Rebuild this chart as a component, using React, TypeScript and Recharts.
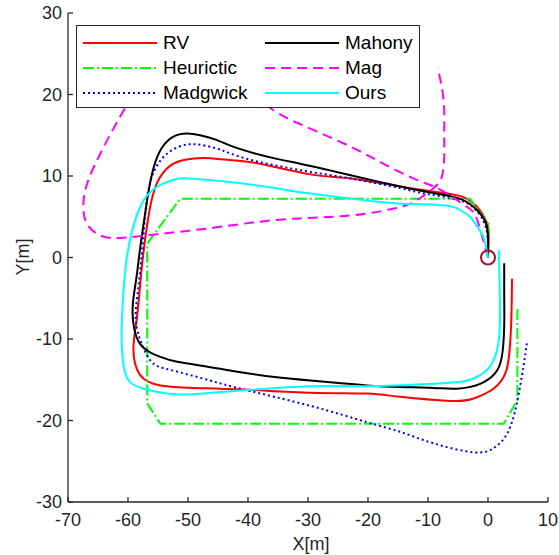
import { LineChart, Line, XAxis, YAxis, ReferenceDot, Legend, Label } from 'recharts';

const xTicks = [-70, -60, -50, -40, -30, -20, -10, 0, 10];
const yTicks = [-30, -20, -10, 0, 10, 20, 30];

// [x, y] in metres
const rv = [[0,0],[0.1,3.3],[-0.5,4.8],[-1.8,6.2],[-4.1,7.4],[-7.4,7.9],[-14.6,8.7],[-22.9,9.7],[-29.6,10.2],[-38,11.5],[-43.5,12.0],[-47.4,12.2],[-50.5,12.0],[-52.9,11.3],[-55.2,9.1],[-56.6,5.0],[-57.7,-1.2],[-58.5,-7.3],[-59.1,-11.2],[-58,-14.4],[-54.6,-15.7],[-49.1,-16.0],[-40.7,-16.2],[-29.6,-16.6],[-20.2,-16.7],[-14.6,-17.1],[-6.3,-17.6],[-2.4,-17.3],[0.9,-16.1],[2.9,-14.2],[3.6,-11.4],[3.9,-7.3],[4,-2.6]];
const heuristic = [[0,0],[0.1,4.1],[-3,7.2],[-51.3,7.2],[-56.8,1.7],[-56.8,-17.9],[-54.6,-20.4],[2.6,-20.4],[4.9,-17.5],[4.9,-6.1]];
const madgwick = [[0,0],[0,1.5],[-0.4,3.8],[-2,5.8],[-5,7.1],[-10.2,7.8],[-14.6,8.5],[-22.9,9.7],[-29.6,10.5],[-34,11.1],[-38,11.7],[-41.5,12.4],[-44.5,13.2],[-47,13.7],[-49.1,13.9],[-51.5,13.6],[-54.6,11.9],[-56.6,8.3],[-57.4,2.9],[-58.2,-3.2],[-58.7,-6.5],[-58.3,-9.3],[-56.3,-12.6],[-52.9,-13.8],[-46.3,-15.1],[-40.7,-16.2],[-29.6,-18.2],[-20.2,-20.2],[-14.6,-21.4],[-9.1,-22.8],[-2.4,-23.9],[0.9,-23.4],[3.2,-21.6],[4.8,-17.9],[5.9,-13.4],[6.5,-10.4]];
const mahony = [[0,0],[0,0.9],[-0.2,3.8],[-1.8,5.8],[-4.6,7.2],[-9.1,7.9],[-14.6,8.7],[-22.9,10.1],[-27,10.8],[-31.3,11.5],[-35.2,12.1],[-39,12.8],[-42.5,13.6],[-45.5,14.5],[-48,15.0],[-50.2,15.2],[-52.5,14.8],[-54.4,13.4],[-55.7,11.1],[-56.6,8.0],[-57.3,4.6],[-58.0,1.0],[-58.6,-2.5],[-59.2,-5.8],[-59.0,-8.6],[-58.0,-10.6],[-56.4,-11.6],[-54.6,-12.2],[-51.8,-12.8],[-47.5,-13.3],[-43.5,-13.8],[-39.3,-14.3],[-35.2,-14.7],[-29.6,-15.1],[-24.9,-15.4],[-20.2,-15.7],[-14.6,-15.9],[-9.1,-16.0],[-5.2,-16.1],[-1.3,-15.5],[1.2,-14.2],[2.3,-12.2],[2.7,-8.5],[2.7,-4.6],[2.7,-0.7]];
const mag = [[0,0],[-1.8,4.6],[-3.5,6.2],[-7.9,8.3],[-11.8,9.5],[-17.4,11.5],[-22.9,13.6],[-30.2,16.0],[-35.8,18.1],[-41,21],[-47,23],[-54,22.5],[-58.5,20.3],[-61.3,17.3],[-65.7,11.1],[-67.4,7.0],[-66.9,4.2],[-64.6,2.7],[-61.3,2.4],[-54.6,2.9],[-46.3,3.6],[-38,4.4],[-31.3,4.8],[-25.7,5.0],[-20.2,5.4],[-15.7,6.0],[-12.4,6.8],[-9.1,8.5],[-7.7,9.9],[-7.3,12.3],[-7.3,15.2],[-7.4,19.3],[-8.4,23.3]];
const ours = [[0,0],[-0.2,0.9],[-0.8,2.6],[-1.8,3.8],[-3,5],[-4.6,5.8],[-7.4,6.4],[-14.6,6.6],[-20.2,7.0],[-31.3,8.0],[-35.2,8.5],[-43.5,9.3],[-50,9.7],[-52.1,9.6],[-54.6,8.9],[-57.4,7.0],[-59.3,3.3],[-60.4,-1.2],[-61,-7.3],[-61,-11.4],[-60.2,-14.7],[-57.4,-16.1],[-51.8,-16.8],[-46.3,-16.6],[-40.7,-16.3],[-29.6,-15.8],[-20.2,-15.8],[-9.1,-15.5],[-3.5,-15.1],[-0.2,-13.8],[1.5,-11.4],[2,-7.3],[1.8,0.9]];

const toRows = (pts: number[][]) => pts.map(([x, y]) => ({ x, y }));

const series = [
  { name: 'RV', data: rv, color: '#FF0000', dash: undefined, curve: 'natural' },
  { name: 'Heurictic', data: heuristic, color: '#00FF00', dash: '11 3 2 3', curve: 'linear' },
  { name: 'Madgwick', data: madgwick, color: '#0000FF', dash: '2 3', curve: 'natural' },
  { name: 'Mahony', data: mahony, color: '#000000', dash: undefined, curve: 'natural' },
  { name: 'Mag', data: mag, color: '#FF00FF', dash: '10 6', curve: 'natural' },
  { name: 'Ours', data: ours, color: '#00FFFF', dash: undefined, curve: 'natural' },
];

const font = '"Liberation Sans", Arial, sans-serif';
const axisColor = '#262626';

const LegendBox = () => (
  <div
    style={{
      position: 'relative',
      width: 344,
      height: 83,
      boxSizing: 'border-box',
      border: `1.3px solid ${axisColor}`,
      background: '#fff',
      fontFamily: font,
      fontSize: 19,
      color: '#000',
    }}
  >
    {series.map((s, i) => {
      const col = Math.floor(i / 3);
      const row = i % 3;
      return (
        <div
          key={s.name}
          style={{
            position: 'absolute',
            left: 6 + col * 182,
            top: 5 + row * 25,
            height: 24,
            display: 'flex',
            alignItems: 'center',
            whiteSpace: 'nowrap',
          }}
        >
          <svg width={74} height={6}>
            <line x1={0} y1={3} x2={74} y2={3} stroke={s.color} strokeWidth={2} strokeDasharray={s.dash} />
          </svg>
          <span style={{ marginLeft: 6, lineHeight: '24px' }}>{s.name}</span>
        </div>
      );
    })}
  </div>
);

export default function App() {
  return (
    <div style={{ position: 'absolute', left: 0, top: 0, width: 559, height: 555, background: '#fff' }}>
      <LineChart width={559} height={555} margin={{ top: 13, right: 11, bottom: 0, left: 8 }}>
        <XAxis
          dataKey="x"
          type="number"
          domain={[-70, 10]}
          ticks={xTicks}
          interval={0}
          allowDataOverflow
          height={53}
          tickSize={-5}
          tickMargin={16}
          stroke={axisColor}
          strokeWidth={1.3}
          tick={{ fill: axisColor, fontSize: 18, fontFamily: font }}
        >
          <Label
            content={({ viewBox }: any) => (
              <text
                x={viewBox.x + viewBox.width / 2 + 3}
                y={viewBox.y + 48}
                textAnchor="middle"
                fill={axisColor}
                fontSize={18}
                fontFamily={font}
              >
                X[m]
              </text>
            )}
          />
        </XAxis>
        <XAxis
          xAxisId="top"
          orientation="top"
          type="number"
          domain={[-70, 10]}
          ticks={xTicks}
          interval={0}
          height={0}
          tickSize={-5}
          tick={false}
          stroke={axisColor}
          strokeWidth={1.3}
        />
        <YAxis
          dataKey="y"
          type="number"
          domain={[-30, 30]}
          ticks={yTicks}
          interval={0}
          allowDataOverflow
          width={60}
          tickSize={-5}
          tickMargin={11}
          stroke={axisColor}
          strokeWidth={1.3}
          tick={{ fill: axisColor, fontSize: 18, fontFamily: font }}
        >
          <Label
            content={() => (
              <text
                x={23}
                y={257}
                transform="rotate(-90 23 257)"
                textAnchor="middle"
                dominantBaseline="central"
                fill={axisColor}
                fontSize={18}
                fontFamily={font}
              >
                Y[m]
              </text>
            )}
          />
        </YAxis>
        <YAxis
          yAxisId="right"
          orientation="right"
          type="number"
          domain={[-30, 30]}
          ticks={yTicks}
          interval={0}
          width={0}
          tickSize={-5}
          tick={false}
          stroke={axisColor}
          strokeWidth={1.3}
        />
        {series.map((s) => (
          <Line
            key={s.name}
            data={toRows(s.data)}
            dataKey="y"
            name={s.name}
            type={s.curve as any}
            stroke={s.color}
            strokeWidth={2}
            strokeDasharray={s.dash}
            dot={false}
            activeDot={false}
            isAnimationActive={false}
          />
        ))}
        <ReferenceDot x={0} y={0} r={7} fill="none" stroke="#A2142F" strokeWidth={2} />
        <Legend
          layout="horizontal"
          verticalAlign="middle"
          align="center"
          content={() => <LegendBox />}
          wrapperStyle={{ left: 76, top: 25, width: 344, height: 83 }}
        />
      </LineChart>
    </div>
  );
}
